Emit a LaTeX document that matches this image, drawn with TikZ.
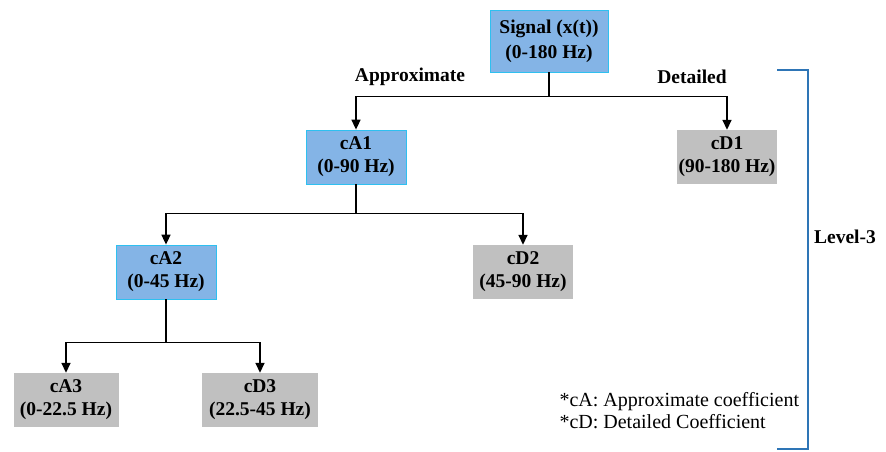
\documentclass[tikz,border=0pt]{standalone}
\usepackage{fontspec}
\setmainfont{Liberation Serif}
\usetikzlibrary{positioning, arrows.meta}
\definecolor{acolor}{HTML}{84B4E6}
\definecolor{aborder}{HTML}{2EC0F0}
\definecolor{dcolor}{HTML}{C0C0C0}
\definecolor{bcolor}{HTML}{2E75B6}

\begin{document}
\begin{tikzpicture}[x=1pt, y=-1pt,
    block/.style={rectangle, align=center, font=\fontsize{19.5}{23}\selectfont\bfseries, minimum height=54pt, minimum width=100pt, inner sep=2pt},
    ablock/.style={block, fill=acolor, draw=aborder, line width=0.8pt},
    dblock/.style={block, fill=dcolor},
    arr/.style={-{Triangle[length=10pt, width=9pt]}, line width=1.6pt},
    lbl/.style={font=\fontsize{19.5}{23}\selectfont\bfseries},
  ]
    \useasboundingbox (0,0) rectangle (886,451);

    \node[ablock, minimum width=118pt, minimum height=62pt, font=\fontsize{19.5}{25}\selectfont\bfseries] (sig) at (549,41) {Signal (x(t))\\(0-180 Hz)};
    \node[ablock] (ca1) at (356,157) {cA1\\(0-90 Hz)};
    \node[dblock] (cd1) at (727,157) {cD1\\(90-180 Hz)};
    \node[ablock] (ca2) at (166,272) {cA2\\(0-45 Hz)};
    \node[dblock] (cd2) at (523,272) {cD2\\(45-90 Hz)};
    \node[dblock, minimum width=105pt] (ca3) at (66,400) {cA3\\(0-22.5 Hz)};
    \node[dblock, minimum width=116pt] (cd3) at (260,400) {cD3\\(22.5-45 Hz)};

    \draw[arr] (sig.south) -- ++(0,24) -| (ca1.north);
    \draw[arr] (sig.south) -- ++(0,24) -| (cd1.north);
    \draw[arr] (ca1.south) -- ++(0,29) -| (ca2.north);
    \draw[arr] (ca1.south) -- ++(0,29) -| (cd2.north);
    \draw[arr] (ca2.south) -- ++(0,43) -| (ca3.north);
    \draw[arr] (ca2.south) -- ++(0,43) -| (cd3.north);

    \node[lbl] (appr) at (410,77) {Approximate};
    \node[lbl] (det) at (692,77) {Detailed};

    % level bracket
    \coordinate (btop) at (777,70);
    \coordinate (bbot) at (777,449);
    \draw[bcolor, line width=1.8pt] (btop) -- ++(31,0) |- (bbot);
    \node[lbl] (lvl) at (845,237) {Level-3};

    \node[font=\fontsize{20}{22}\selectfont, align=left, anchor=west] (key) at (556,411) {*cA: Approximate coefficient\\*cD: Detailed Coefficient};
  \end{tikzpicture}
\end{document}
